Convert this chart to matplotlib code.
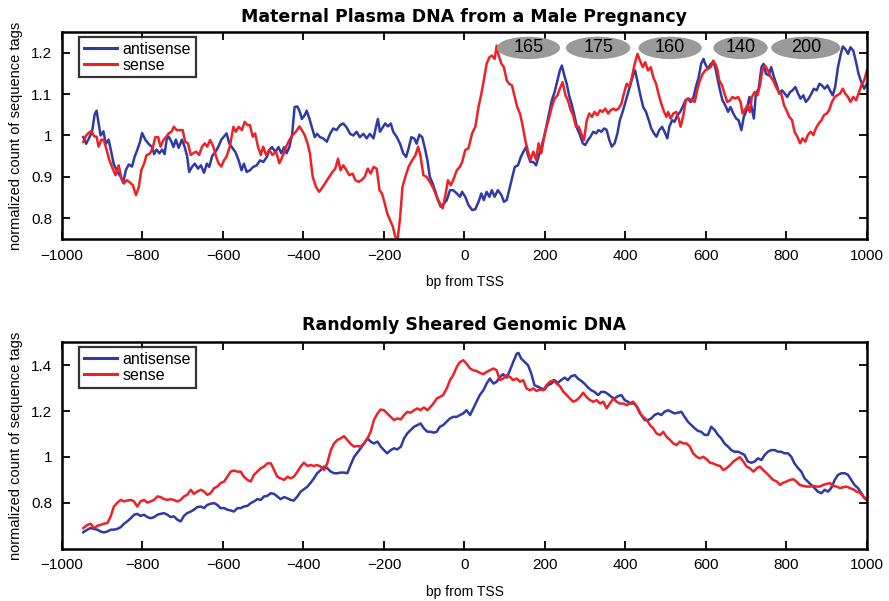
import matplotlib
matplotlib.use('Agg')
import matplotlib.pyplot as plt
from matplotlib.patches import Ellipse

plt.rcParams['font.family'] = ['Liberation Sans', 'DejaVu Sans']

# top panel: maternal plasma DNA (bp from TSS, normalized count)
top_anti_x = [-947, -940, -932, -925, -919, -914, -909, -904, -897, -891, -884, -877, -871, -862, -854, -848,
              -841, -834, -826, -819, -813, -806, -801, -793, -785, -776, -771, -765, -758, -751, -745, -740,
              -735, -728, -723, -717, -710, -702, -695, -689, -684, -677, -670, -662, -655, -647, -640, -634,
              -627, -619, -612, -604, -597, -591, -584, -578, -569, -561, -554, -548, -541, -533, -525, -516,
              -508, -500, -491, -485, -478, -470, -462, -455, -448, -442, -435, -428, -422, -415, -409, -404,
              -397, -392, -385, -379, -372, -366, -359, -351, -342, -334, -326, -318, -309, -301, -293, -284,
              -276, -268, -260, -251, -243, -235, -226, -220, -215, -210, -203, -197, -190, -183, -177, -168,
              -160, -152, -145, -139, -132, -124, -119, -112, -105, -99, -92, -86, -79, -72, -66, -59,
              -52, -44, -36, -28, -19, -11, -6, 2, 10, 19, 27, 35, 42, 48, 55, 62,
              68, 75, 83, 92, 98, 105, 111, 118, 125, 133, 140, 146, 153, 158, 164, 171,
              178, 184, 191, 198, 204, 211, 217, 224, 231, 237, 242, 247, 254, 260, 267, 274,
              280, 287, 294, 300, 307, 313, 320, 327, 333, 340, 347, 353, 360, 366, 373, 380,
              386, 393, 400, 406, 413, 420, 424, 431, 438, 444, 451, 458, 464, 471, 477, 484,
              491, 497, 504, 509, 516, 522, 529, 536, 542, 549, 555, 562, 569, 575, 582, 588,
              594, 598, 605, 612, 618, 623, 628, 635, 641, 648, 655, 661, 668, 675, 681, 688,
              694, 701, 708, 714, 719, 724, 731, 738, 743, 749, 756, 762, 769, 776, 782, 789,
              796, 802, 809, 815, 822, 829, 835, 842, 848, 855, 862, 868, 875, 882, 888, 895,
              902, 908, 915, 921, 928, 935, 940, 946, 953, 959, 966, 973, 979, 986, 993, 1000]
top_anti_y = [0.996, 0.98, 0.995, 1.01, 1.05, 1.06, 1.03, 1.0, 1.01, 0.98, 0.99, 0.957, 0.93, 0.912, 0.90, 0.886,
              0.917, 0.93, 0.925, 0.95, 0.965, 0.985, 1.006, 0.99, 0.98, 0.972, 0.955, 0.966, 0.957, 0.966, 0.955, 0.99,
              0.997, 0.985, 0.972, 0.99, 0.97, 0.99, 0.972, 0.95, 0.912, 0.924, 0.932, 0.92, 0.928, 0.91, 0.932, 0.924,
              0.95, 0.96, 0.972, 0.99, 0.998, 1.005, 0.98, 0.972, 0.96, 0.94, 0.916, 0.932, 0.912, 0.916, 0.924, 0.928,
              0.94, 0.936, 0.948, 0.965, 0.972, 0.96, 0.972, 0.957, 0.972, 0.957, 0.972, 1.004, 1.069, 1.07, 1.057, 1.04,
              1.049, 1.06, 1.04, 1.02, 0.996, 1.004, 0.996, 0.993, 0.985, 1.004, 1.017, 1.013, 1.025, 1.029, 1.02, 1.004,
              1.0, 1.009, 0.996, 1.004, 0.993, 1.004, 0.993, 1.02, 1.04, 1.009, 1.02, 1.029, 1.022, 1.029, 1.009, 0.996,
              0.98, 0.957, 0.948, 0.968, 0.996, 0.992, 0.98, 1.002, 0.996, 0.972, 0.94, 0.9, 0.884, 0.864, 0.844, 0.828,
              0.834, 0.844, 0.868, 0.868, 0.86, 0.852, 0.864, 0.852, 0.832, 0.820, 0.822, 0.840, 0.860, 0.844, 0.864, 0.852,
              0.868, 0.852, 0.868, 0.856, 0.840, 0.844, 0.868, 0.896, 0.924, 0.928, 0.948, 0.960, 0.972, 0.952, 0.936, 0.936,
              0.928, 0.948, 0.972, 0.997, 1.025, 1.057, 1.085, 1.105, 1.133, 1.157, 1.169, 1.149, 1.125, 1.097, 1.073, 1.045,
              1.017, 1.001, 0.981, 0.977, 0.989, 0.997, 1.009, 1.005, 1.013, 1.009, 1.017, 1.014, 0.989, 0.973, 0.981, 1.005,
              1.037, 1.057, 1.081, 1.101, 1.125, 1.149, 1.157, 1.125, 1.093, 1.069, 1.057, 1.037, 1.017, 1.005, 0.997, 1.013,
              1.021, 1.009, 0.993, 1.021, 1.037, 1.033, 1.049, 1.057, 1.069, 1.085, 1.089, 1.081, 1.093, 1.117, 1.141, 1.173,
              1.185, 1.173, 1.161, 1.173, 1.177, 1.165, 1.141, 1.109, 1.085, 1.073, 1.057, 1.069, 1.053, 1.041, 1.037, 1.013,
              1.045, 1.061, 1.093, 1.065, 1.041, 1.101, 1.113, 1.165, 1.173, 1.149, 1.145, 1.165, 1.141, 1.121, 1.101, 1.109,
              1.101, 1.093, 1.105, 1.109, 1.117, 1.101, 1.089, 1.097, 1.081, 1.089, 1.101, 1.113, 1.109, 1.125, 1.121, 1.113,
              1.121, 1.109, 1.097, 1.117, 1.165, 1.197, 1.215, 1.209, 1.197, 1.213, 1.205, 1.177, 1.149, 1.129, 1.113, 1.125]

top_sense_x = [-947, -940, -934, -927, -920, -914, -909, -902, -896, -889, -882, -876, -867, -859, -853, -846,
               -839, -833, -824, -816, -809, -803, -796, -790, -781, -775, -768, -761, -755, -748, -741, -735,
               -728, -722, -715, -707, -700, -694, -687, -680, -674, -667, -659, -652, -645, -639, -632, -624,
               -617, -611, -604, -597, -591, -583, -574, -568, -561, -553, -546, -539, -533, -526, -520, -513,
               -506, -500, -493, -485, -477, -468, -460, -452, -443, -435, -427, -419, -410, -404, -397, -390,
               -384, -377, -369, -361, -352, -344, -336, -328, -321, -314, -308, -301, -293, -286, -278, -271,
               -263, -256, -248, -240, -233, -226, -218, -211, -205, -198, -192, -185, -178, -172, -166, -160,
               -154, -147, -139, -130, -122, -115, -109, -102, -94, -86, -77, -69, -61, -54, -48, -41,
               -34, -28, -19, -11, -6, 2, 10, 19, 27, 35, 42, 48, 55, 62, 68, 75,
               80, 85, 92, 98, 105, 111, 118, 125, 131, 138, 145, 151, 158, 164, 171, 178,
               184, 191, 198, 204, 211, 217, 224, 231, 237, 244, 251, 257, 264, 270, 277, 284,
               290, 297, 304, 310, 317, 323, 330, 337, 343, 350, 357, 363, 370, 376, 383, 390,
               396, 403, 410, 416, 423, 430, 436, 443, 449, 456, 463, 469, 476, 482, 489, 496,
               502, 506, 512, 519, 526, 532, 537, 544, 550, 557, 565, 572, 579, 585, 592, 598,
               605, 612, 618, 623, 628, 633, 640, 646, 653, 660, 666, 673, 680, 686, 691, 696,
               703, 709, 714, 721, 728, 734, 741, 747, 754, 761, 767, 774, 781, 787, 794, 800,
               807, 814, 820, 827, 834, 840, 847, 853, 860, 867, 873, 880, 887, 893, 900, 906,
               913, 920, 926, 933, 940, 946, 953, 959, 966, 973, 979, 986, 993, 1000]
top_sense_y = [0.985, 1.0, 1.006, 1.011, 0.998, 0.997, 0.973, 0.99, 0.989, 0.965, 0.94, 0.925, 0.904, 0.928, 0.900, 0.884,
               0.892, 0.888, 0.880, 0.856, 0.876, 0.916, 0.932, 0.952, 0.957, 0.969, 0.996, 0.996, 0.973, 0.989, 0.997, 1.005,
               1.009, 1.021, 1.013, 1.013, 1.013, 0.985, 0.981, 0.953, 0.957, 0.961, 0.953, 0.973, 0.981, 0.973, 0.989, 0.973,
               0.949, 0.933, 0.925, 0.941, 0.949, 0.973, 1.021, 1.009, 1.021, 1.013, 1.033, 1.025, 1.025, 0.997, 1.005, 0.973,
               0.953, 0.973, 0.953, 0.965, 0.953, 0.961, 0.933, 0.949, 0.973, 0.989, 1.001, 1.009, 1.022, 1.013, 1.001, 0.981,
               0.957, 0.9, 0.876, 0.864, 0.876, 0.888, 0.9, 0.912, 0.92, 0.944, 0.916, 0.928, 0.916, 0.904, 0.908, 0.892,
               0.888, 0.892, 0.9, 0.92, 0.908, 0.924, 0.92, 0.868, 0.86, 0.836, 0.812, 0.796, 0.78, 0.756, 0.75, 0.80,
               0.876, 0.9, 0.924, 0.94, 0.952, 0.973, 0.949, 0.904, 0.9, 0.888, 0.872, 0.852, 0.836, 0.824, 0.852, 0.892,
               0.88, 0.892, 0.916, 0.925, 0.935, 0.965, 0.969, 1.005, 1.021, 1.069, 1.101, 1.133, 1.173, 1.189, 1.193, 1.185,
               1.217, 1.193, 1.173, 1.165, 1.133, 1.125, 1.121, 1.093, 1.069, 1.053, 1.021, 0.989, 0.961, 0.941, 0.961, 0.941,
               0.981, 0.957, 0.997, 1.021, 1.045, 1.069, 1.089, 1.097, 1.113, 1.129, 1.097, 1.085, 1.061, 1.049, 1.021, 1.021,
               1.005, 0.989, 1.037, 1.053, 1.045, 1.057, 1.049, 1.061, 1.057, 1.065, 1.053, 1.061, 1.065, 1.061, 1.065, 1.077,
               1.101, 1.125, 1.117, 1.141, 1.173, 1.197, 1.181, 1.165, 1.177, 1.157, 1.165, 1.141, 1.125, 1.101, 1.077, 1.057,
               1.045, 1.057, 1.041, 1.053, 1.057, 1.041, 1.021, 1.049, 1.085, 1.089, 1.085, 1.081, 1.113, 1.133, 1.149, 1.157,
               1.161, 1.165, 1.181, 1.173, 1.161, 1.133, 1.121, 1.101, 1.081, 1.085, 1.093, 1.089, 1.093, 1.081, 1.053, 1.061,
               1.073, 1.057, 1.093, 1.105, 1.097, 1.121, 1.161, 1.169, 1.157, 1.141, 1.133, 1.117, 1.105, 1.101, 1.073, 1.061,
               1.045, 1.037, 1.009, 0.997, 0.981, 0.993, 0.985, 1.001, 1.009, 1.001, 1.017, 1.029, 1.037, 1.049, 1.053, 1.061,
               1.081, 1.093, 1.097, 1.101, 1.113, 1.101, 1.093, 1.081, 1.093, 1.085, 1.101, 1.121, 1.133, 1.157]

# nucleosome spacing labels (bp) with their centre positions
spacing_labels = ['165', '175', '160', '140', '200']
spacing_centers = [159, 332, 511, 686, 848]
spacing_widths = [157, 160, 157, 135, 172]

# bottom panel: randomly sheared genomic DNA
bot_anti_x = [-947, -937, -929, -920, -912, -904, -896, -887, -879, -871, -863, -854, -846, -838, -829, -821,
              -813, -805, -796, -788, -780, -771, -763, -755, -746, -738, -730, -722, -713, -705, -697, -689,
              -680, -672, -664, -655, -647, -639, -631, -622, -614, -606, -597, -589, -581, -573, -564, -556,
              -548, -539, -531, -523, -515, -506, -498, -490, -481, -473, -465, -457, -448, -440, -432, -424,
              -415, -407, -399, -390, -382, -374, -366, -357, -349, -341, -332, -324, -316, -308, -299, -291,
              -283, -274, -266, -258, -250, -241, -233, -225, -216, -208, -200, -192, -183, -175, -167, -158,
              -150, -142, -134, -125, -117, -109, -101, -92, -84, -76, -69, -61, -53, -44, -36, -28,
              -19, -11, -3, 5, 14, 22, 30, 38, 47, 55, 63, 72, 80, 88, 96, 105,
              113, 121, 130, 134, 141, 150, 158, 166, 174, 183, 191, 199, 207, 216, 224, 232,
              240, 249, 257, 265, 274, 282, 290, 298, 307, 315, 323, 332, 340, 348, 357, 365,
              373, 381, 390, 398, 406, 414, 423, 431, 439, 448, 456, 464, 472, 481, 489, 497,
              506, 514, 522, 530, 539, 547, 555, 564, 572, 580, 588, 597, 605, 613, 622, 630,
              638, 646, 655, 663, 671, 680, 688, 696, 704, 713, 721, 729, 738, 746, 754, 762,
              771, 779, 787, 795, 804, 812, 820, 829, 837, 845, 853, 862, 870, 878, 887, 895,
              903, 911, 920, 928, 936, 945, 953, 961, 969, 978, 986, 994, 1000]
bot_anti_y = [0.672, 0.683, 0.690, 0.686, 0.683, 0.675, 0.671, 0.675, 0.683, 0.683, 0.686, 0.694, 0.709, 0.719, 0.733, 0.748,
              0.752, 0.743, 0.748, 0.738, 0.733, 0.738, 0.748, 0.752, 0.755, 0.748, 0.738, 0.741, 0.726, 0.719, 0.743, 0.755,
              0.762, 0.770, 0.781, 0.784, 0.777, 0.791, 0.796, 0.799, 0.791, 0.777, 0.777, 0.770, 0.767, 0.762, 0.777, 0.777,
              0.784, 0.787, 0.799, 0.806, 0.816, 0.813, 0.828, 0.830, 0.842, 0.839, 0.828, 0.816, 0.825, 0.820, 0.813, 0.810,
              0.828, 0.849, 0.859, 0.871, 0.888, 0.907, 0.929, 0.943, 0.958, 0.951, 0.936, 0.929, 0.929, 0.932, 0.932, 0.929,
              0.965, 1.001, 1.019, 1.038, 1.057, 1.081, 1.067, 1.059, 1.067, 1.045, 1.030, 1.016, 1.030, 1.038, 1.033, 1.045,
              1.081, 1.103, 1.117, 1.132, 1.139, 1.146, 1.125, 1.110, 1.110, 1.106, 1.110, 1.132, 1.139, 1.154, 1.168, 1.175,
              1.175, 1.183, 1.190, 1.204, 1.183, 1.212, 1.241, 1.270, 1.291, 1.320, 1.342, 1.320, 1.328, 1.349, 1.361, 1.346,
              1.378, 1.414, 1.451, 1.454, 1.429, 1.414, 1.400, 1.364, 1.313, 1.306, 1.299, 1.294, 1.313, 1.320, 1.335, 1.323,
              1.335, 1.346, 1.335, 1.352, 1.357, 1.342, 1.332, 1.320, 1.303, 1.291, 1.284, 1.270, 1.284, 1.284, 1.274, 1.262,
              1.255, 1.265, 1.270, 1.248, 1.241, 1.233, 1.233, 1.212, 1.183, 1.161, 1.161, 1.168, 1.183, 1.190, 1.183, 1.197,
              1.204, 1.197, 1.190, 1.193, 1.197, 1.175, 1.154, 1.139, 1.125, 1.114, 1.110, 1.096, 1.096, 1.132, 1.117, 1.096,
              1.081, 1.059, 1.045, 1.030, 1.023, 1.023, 1.016, 1.009, 0.980, 0.975, 0.980, 0.994, 0.987, 1.009, 1.023, 1.030,
              1.030, 1.023, 1.023, 1.016, 1.016, 1.001, 0.972, 0.951, 0.936, 0.907, 0.893, 0.878, 0.864, 0.849, 0.842, 0.857,
              0.849, 0.864, 0.900, 0.922, 0.929, 0.929, 0.922, 0.900, 0.878, 0.864, 0.842, 0.820, 0.813]

bot_sense_x = [-947, -937, -929, -920, -912, -904, -896, -887, -879, -871, -863, -854, -846, -838, -829, -821,
               -813, -805, -796, -788, -780, -771, -763, -755, -746, -738, -730, -722, -713, -705, -697, -689,
               -680, -672, -664, -655, -647, -639, -631, -622, -614, -606, -597, -589, -581, -573, -564, -556,
               -548, -539, -531, -523, -515, -506, -498, -490, -481, -473, -465, -457, -448, -440, -432, -424,
               -415, -407, -399, -390, -382, -374, -366, -357, -349, -341, -332, -324, -316, -308, -299, -291,
               -283, -274, -266, -258, -250, -241, -233, -225, -216, -208, -200, -192, -183, -175, -167, -158,
               -150, -142, -134, -125, -117, -109, -101, -92, -84, -77, -69, -61, -53, -44, -36, -28,
               -19, -11, -3, 5, 14, 22, 30, 38, 47, 55, 63, 72, 80, 88, 96, 105,
               113, 121, 130, 138, 146, 154, 163, 171, 179, 187, 196, 204, 212, 221, 229, 237,
               246, 254, 262, 270, 279, 287, 295, 303, 312, 320, 328, 337, 345, 353, 361, 370,
               378, 386, 395, 403, 411, 419, 428, 436, 444, 453, 461, 469, 477, 486, 494, 502,
               511, 519, 527, 535, 544, 552, 560, 568, 577, 585, 593, 602, 610, 618, 626, 635,
               643, 651, 660, 668, 676, 684, 693, 701, 709, 718, 726, 734, 742, 751, 759, 767,
               776, 784, 792, 800, 809, 817, 825, 833, 842, 850, 858, 867, 875, 883, 891, 900,
               908, 916, 925, 933, 941, 949, 958, 966, 974, 982, 991, 1000]
bot_sense_y = [0.690, 0.704, 0.709, 0.690, 0.700, 0.704, 0.709, 0.712, 0.741, 0.784, 0.799, 0.813, 0.806, 0.810, 0.813, 0.806,
               0.784, 0.806, 0.813, 0.801, 0.806, 0.813, 0.828, 0.825, 0.816, 0.813, 0.816, 0.813, 0.806, 0.813, 0.828, 0.835,
               0.857, 0.839, 0.849, 0.857, 0.849, 0.835, 0.842, 0.864, 0.871, 0.886, 0.893, 0.914, 0.936, 0.941, 0.936, 0.936,
               0.914, 0.900, 0.893, 0.922, 0.936, 0.951, 0.958, 0.972, 0.972, 0.943, 0.914, 0.907, 0.900, 0.914, 0.907, 0.914,
               0.936, 0.958, 0.975, 0.961, 0.965, 0.961, 0.965, 0.958, 0.943, 0.972, 1.030, 1.059, 1.074, 1.081, 1.091, 1.074,
               1.057, 1.045, 1.048, 1.045, 1.059, 1.081, 1.110, 1.161, 1.190, 1.207, 1.204, 1.190, 1.175, 1.161, 1.168, 1.164,
               1.183, 1.197, 1.193, 1.204, 1.212, 1.204, 1.216, 1.204, 1.219, 1.233, 1.255, 1.262, 1.270, 1.299, 1.335, 1.357,
               1.393, 1.414, 1.422, 1.407, 1.386, 1.378, 1.375, 1.367, 1.361, 1.371, 1.378, 1.386, 1.378, 1.335, 1.342, 1.357,
               1.349, 1.335, 1.342, 1.328, 1.335, 1.299, 1.291, 1.299, 1.288, 1.294, 1.291, 1.313, 1.328, 1.335, 1.320, 1.309,
               1.284, 1.270, 1.255, 1.241, 1.248, 1.262, 1.280, 1.262, 1.248, 1.241, 1.248, 1.233, 1.241, 1.212, 1.233, 1.255,
               1.241, 1.233, 1.233, 1.226, 1.233, 1.241, 1.219, 1.190, 1.175, 1.161, 1.139, 1.125, 1.103, 1.096, 1.110, 1.088,
               1.074, 1.059, 1.052, 1.067, 1.059, 1.059, 1.045, 1.016, 1.001, 0.994, 1.001, 0.990, 0.975, 0.972, 0.965, 0.961,
               0.943, 0.951, 0.965, 0.980, 0.990, 0.999, 0.980, 0.958, 0.951, 0.936, 0.951, 0.958, 0.943, 0.929, 0.914, 0.900,
               0.893, 0.878, 0.888, 0.893, 0.900, 0.903, 0.893, 0.878, 0.874, 0.871, 0.871, 0.874, 0.871, 0.871, 0.878, 0.883,
               0.886, 0.874, 0.871, 0.864, 0.868, 0.871, 0.864, 0.859, 0.849, 0.845, 0.828, 0.813]

blue = '#2f3aa6'
red = '#ec2227'


def style_axes(ax):
    ax.set_xlim(-1000, 1000)
    ax.set_xticks(range(-1000, 1001, 200))
    ax.tick_params(direction='in', top=True, right=True, length=6, width=1.3,
                   labelsize=11, pad=7)
    for s in ax.spines.values():
        s.set_linewidth(1.8)
    ax.set_xlabel('bp from TSS', fontsize=10, labelpad=9)
    ax.set_ylabel('normalized count of sequence tags', fontsize=10.5, labelpad=6)
    leg = ax.legend(loc='upper left', fontsize=11.5, handlelength=2.1, handletextpad=0.35,
                    borderpad=0.3, labelspacing=0.05, fancybox=False,
                    bbox_to_anchor=(0.021, 0.976), borderaxespad=0)
    leg.get_frame().set_edgecolor('black')
    leg.get_frame().set_linewidth(1.6)
    for h in leg.get_lines():
        h.set_linewidth(2.2)


fig = plt.figure(figsize=(8.89, 6.01), dpi=100)

ax1 = fig.add_axes([0.0697, 0.6023, 0.9055, 0.3445])
ax1.plot(top_anti_x, top_anti_y, color=blue, lw=1.8, label='antisense')
ax1.plot(top_sense_x, top_sense_y, color=red, lw=1.8, label='sense')
ax1.set_ylim(0.75, 1.25)
ax1.set_yticks([0.8, 0.9, 1.0, 1.1, 1.2])
ax1.set_yticklabels(['0.8', '0.9', '1', '1.1', '1.2'])
ax1.set_title('Maternal Plasma DNA from a Male Pregnancy', fontsize=12.5, fontweight='bold',
              family='DejaVu Sans', pad=7)
style_axes(ax1)
for lab, cx, w in zip(spacing_labels, spacing_centers, spacing_widths):
    ax1.add_patch(Ellipse((cx, 1.2115), w, 0.054, facecolor='#9a9a9a', edgecolor='none', zorder=3))
    ax1.text(cx, 1.2115, lab, ha='center', va='center', fontsize=13, zorder=4)

ax2 = fig.add_axes([0.0697, 0.0870, 0.9055, 0.3434])
ax2.plot(bot_anti_x, bot_anti_y, color=blue, lw=1.8, label='antisense')
ax2.plot(bot_sense_x, bot_sense_y, color=red, lw=1.8, label='sense')
ax2.set_ylim(0.6, 1.5)
ax2.set_yticks([0.8, 1.0, 1.2, 1.4])
ax2.set_yticklabels(['0.8', '1', '1.2', '1.4'])
ax2.set_title('Randomly Sheared Genomic DNA', fontsize=12.5, fontweight='bold',
              family='DejaVu Sans', pad=9)
style_axes(ax2)

fig.savefig('out.png', dpi=100)
